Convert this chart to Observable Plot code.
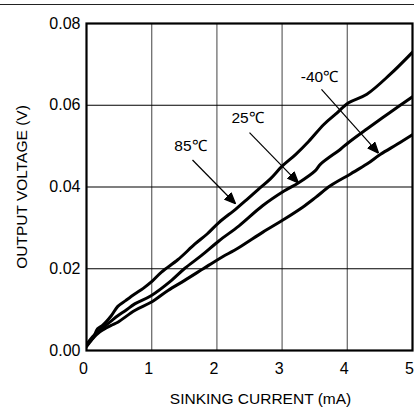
<!DOCTYPE html>
<html><head><meta charset="utf-8">
<script src="https://cdn.jsdelivr.net/npm/d3@7"></script>
<script src="https://cdn.jsdelivr.net/npm/@observablehq/plot@0.6"></script>
<style>
body{margin:0;background:#fff;}
#wrap{position:relative;width:414px;height:415px;overflow:hidden;}
#rule{position:absolute;left:0;top:4px;width:414px;height:0;border-top:1.5px solid #222;}
#chart{position:absolute;left:0;top:0;}
</style></head><body>
<div id="wrap"><div id="rule"></div><div id="chart"></div></div>
<script>
// Data (sinking current in mA, output voltage in V)
const current85 = [0, 0.05, 0.1, 0.17, 0.25, 0.38, 0.48, 0.6, 0.74, 0.87, 0.99, 1.15, 1.4, 1.66, 1.85, 2.03, 2.29, 2.45, 2.64, 2.82, 3.0, 3.21, 3.41, 3.64, 3.82, 4.02, 4.3, 4.66, 5.02];
const voltage85 = [0.0010, 0.0022, 0.0030, 0.0053, 0.0062, 0.0085, 0.0108, 0.0122, 0.0138, 0.0152, 0.0167, 0.0192, 0.0222, 0.0260, 0.0285, 0.0313, 0.0346, 0.0368, 0.0395, 0.0420, 0.0451, 0.0480, 0.0512, 0.0553, 0.0578, 0.0606, 0.0627, 0.0676, 0.0733];

const current25 = [0, 0.05, 0.1, 0.2, 0.3, 0.4, 0.48, 0.6, 0.74, 0.99, 1.3, 1.5, 1.76, 2.03, 2.34, 2.7, 3.03, 3.26, 3.51, 3.59, 3.9, 4.02, 4.3, 4.66, 5.02];
const voltage25 = [0.0015, 0.0025, 0.0035, 0.0050, 0.0062, 0.0075, 0.0085, 0.0098, 0.0114, 0.0134, 0.0171, 0.0200, 0.0232, 0.0268, 0.0305, 0.0354, 0.0390, 0.0411, 0.0440, 0.0456, 0.0493, 0.0509, 0.0542, 0.0583, 0.0623];

const currentM40 = [0, 0.05, 0.1, 0.2, 0.3, 0.4, 0.48, 0.74, 0.99, 1.25, 1.5, 1.79, 2.03, 2.34, 2.7, 3.03, 3.31, 3.51, 3.74, 4.05, 4.3, 4.51, 4.77, 5.02];
const voltageM40 = [0.0010, 0.0020, 0.0030, 0.0045, 0.0055, 0.0063, 0.0069, 0.0098, 0.0118, 0.0147, 0.0171, 0.0200, 0.0224, 0.0252, 0.0289, 0.0321, 0.0350, 0.0374, 0.0403, 0.0432, 0.0456, 0.0480, 0.0505, 0.0530];

const xTicks = [0, 1, 2, 3, 4, 5];
const yTicks = [0, 0.02, 0.04, 0.06, 0.08];
const xTitle = "SINKING CURRENT (mA)";
const yTitle = "OUTPUT VOLTAGE (V)";

// Annotation labels: text anchor and arrow (start -> tip), in data units
const labelNames = ["85℃", "25℃", "-40℃"];
const labelX = [1.595, 2.47, 3.574];
const labelY = [0.0500, 0.0569, 0.0669];
const arrowX1 = [1.626, 2.50, 3.604];
const arrowY1 = [0.0466, 0.0533, 0.0639];
const arrowX2 = [2.285, 3.25, 4.478];
const arrowY2 = [0.0359, 0.0410, 0.0483];

const series = [
  {name: "85", xs: current85, ys: voltage85},
  {name: "25", xs: current25, ys: voltage25},
  {name: "-40", xs: currentM40, ys: voltageM40}
];
const pts = series.flatMap(s => s.xs.map((x, i) => ({series: s.name, x, y: s.ys[i]})));
const labels = labelNames.map((t, i) => ({t, x: labelX[i], y: labelY[i], x1: arrowX1[i], y1: arrowY1[i], x2: arrowX2[i], y2: arrowY2[i]}));

const filledArrow = (color) => {
  const ns = "http://www.w3.org/2000/svg";
  const m = document.createElementNS(ns, "marker");
  m.setAttribute("viewBox", "0 -5 10 10");
  m.setAttribute("refX", "10");
  m.setAttribute("refY", "0");
  m.setAttribute("markerUnits", "userSpaceOnUse");
  m.setAttribute("markerWidth", "11");
  m.setAttribute("markerHeight", "11");
  m.setAttribute("orient", "auto");
  const p = document.createElementNS(ns, "path");
  p.setAttribute("d", "M0,-4.2L10,0L0,4.2Z");
  p.setAttribute("fill", color);
  m.appendChild(p);
  return m;
};

const font = "'Liberation Sans', Arial, Helvetica, sans-serif";

const chart = Plot.plot({
  width: 414,
  height: 415,
  marginLeft: 86,
  marginRight: 2,
  marginTop: 23,
  marginBottom: 65,
  style: {fontFamily: font, background: "transparent", overflow: "visible"},
  x: {domain: [0, 5]},
  y: {domain: [0, 0.08]},
  marks: [
    Plot.gridX(xTicks.slice(1, -1), {stroke: "#6e6e6e", strokeOpacity: 1, strokeWidth: 1.3}),
    Plot.gridY(yTicks.slice(1, -1), {stroke: "#000", strokeOpacity: 1, strokeWidth: 1.2}),
    Plot.line(pts, {x: "x", y: "y", z: "series", stroke: "#000", strokeWidth: 3, clip: true, strokeLinejoin: "round", curve: "catmull-rom"}),
    Plot.frame({stroke: "#000", strokeWidth: 2.2}),
    Plot.axisX(xTicks, {tickSize: 0, tickPadding: 12, fontSize: 16, dx: -3, fill: "#000", label: null}),
    Plot.axisY(yTicks, {tickSize: 0, tickPadding: 6, fontSize: 16, tickFormat: d3.format(".2f"), fill: "#000", label: null}),
    Plot.text([xTitle], {frameAnchor: "bottom", dx: 11, dy: 53, fontSize: 15.5, fill: "#000"}),
    Plot.text([yTitle], {frameAnchor: "left", textAnchor: "middle", dx: -64, rotate: -90, fontSize: 15.5, fill: "#000"}),
    Plot.text(labels, {x: "x", y: "y", text: "t", fontSize: 15.5, fill: "#000"}),
    Plot.link(labels, {x1: "x1", y1: "y1", x2: "x2", y2: "y2", stroke: "#000", strokeWidth: 1.2, markerEnd: filledArrow})
  ]
});
document.getElementById("chart").appendChild(chart);
</script>
</body></html>
